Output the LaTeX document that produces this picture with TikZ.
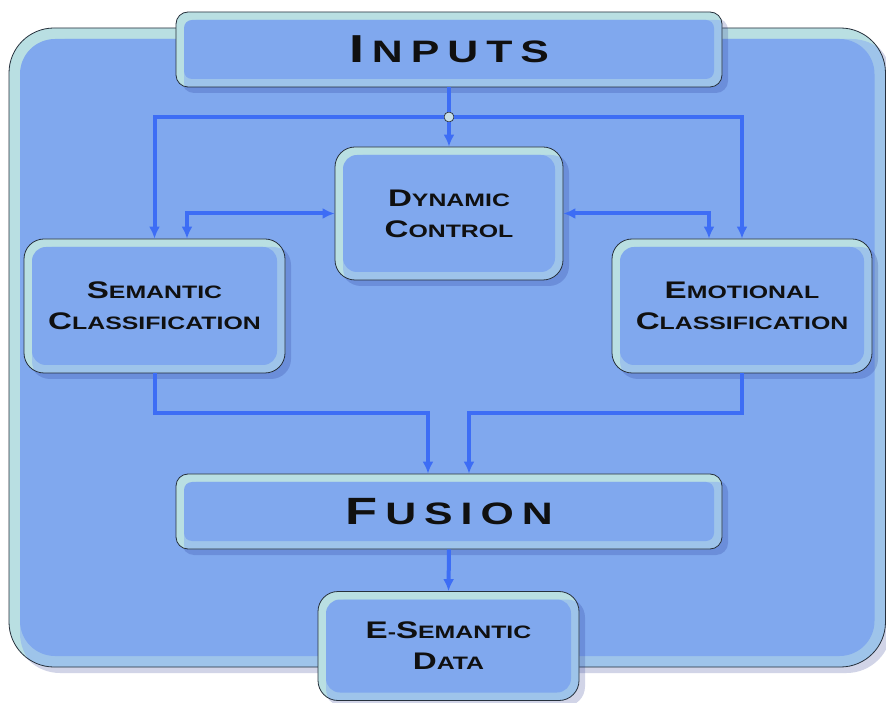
\documentclass[tikz,border=0pt]{standalone}
\usepackage{fontspec}
\usetikzlibrary{arrows.meta,shadows}
\newfontfamily\capfont{Liberation Sans}[FakeStretch=1.38]

\definecolor{facecol}{HTML}{80A8EE}
\definecolor{bevelcol}{HTML}{B9DFE2}
\definecolor{bandcol}{HTML}{9EC4EA}
\definecolor{edgecol}{HTML}{26303C}
\definecolor{wirecol}{HTML}{3D6DF5}
\definecolor{shadecol}{HTML}{1A2A8A}
\definecolor{inkcol}{HTML}{101010}
\definecolor{dotcol}{HTML}{C8DEE6}

% small-caps look: first letter large, the rest in smaller capitals
\newcommand\bigletter[1]{{\fontsize{24pt}{31pt}\selectfont #1}}
\newcommand\capsM[2]{\bigletter{#1}#2}
\newcommand\lgap{\hspace{8pt}}

\tikzset{
  bevelbox/.style n args={3}{
    draw=edgecol, line width=0.8pt, fill=bevelcol,
    rounded corners=#1, inner sep=0pt, align=center,
    text=inkcol, font=\capfont\bfseries\fontsize{18pt}{31pt}\selectfont,
    drop shadow={shadow xshift=6pt, shadow yshift=-6pt, fill=shadecol, opacity=0.2},
    path picture={
      \fill[bandcol, rounded corners=#1]
        ([shift={(#3,-#3)}]path picture bounding box.north west) rectangle
        ([shift={(#3,-#3)}]path picture bounding box.south east);
      \fill[facecol, rounded corners=#2]
        ([shift={(#3,-#3)}]path picture bounding box.north west) rectangle
        ([shift={(-#3,#3)}]path picture bounding box.south east);
    }
  },
  bigbar/.style={bevelbox={12pt}{8pt}{8pt}, minimum width=546pt, minimum height=75pt,
    font=\capfont\bfseries\fontsize{31pt}{31pt}\selectfont},
  stagebox/.style={bevelbox={20pt}{14pt}{8pt}},
  wire/.style={draw=wirecol, line width=4pt},
  flow/.style={wire, -{Latex[length=12pt,width=11pt]}},
  twoway/.style={wire, {Latex[length=12pt,width=11pt]}-{Latex[length=12pt,width=11pt]}},
  junction/.style={circle, draw=edgecol, line width=0.7pt, fill=dotcol,
    minimum size=10pt, inner sep=0pt},
}

\begin{document}
\begin{tikzpicture}[x=1pt,y=1pt]
  \fill[white] (0,0) rectangle (886,702);
  \useasboundingbox (0,0) rectangle (886,702);

  % surrounding panel
  \node[bevelbox={45pt}{35pt}{11pt}, minimum width=876.5pt, minimum height=639pt]
    (frame) at (447.25,354.5) {};

  % blocks
  \node[bigbar] (inp) at (449,652.5)
    {{\fontsize{39pt}{39pt}\selectfont I}\lgap N\lgap P\lgap U\lgap T\lgap S};
  \node[stagebox, minimum width=228pt, minimum height=133pt] (dyn) at (449,488.5)
    {\capsM{D}{YNAMIC}\\\capsM{C}{ONTROL}};
  \node[stagebox, minimum width=261pt, minimum height=134pt] (sem) at (154.5,396)
    {\capsM{S}{EMANTIC}\\\capsM{C}{LASSIFICATION}};
  \node[stagebox, minimum width=260pt, minimum height=134pt] (emo) at (742,396)
    {\capsM{E}{MOTIONAL}\\\capsM{C}{LASSIFICATION}};
  \node[bigbar] (fus) at (449,190.5)
    {{\fontsize{38pt}{38pt}\selectfont F}\lgap U\lgap S\lgap I\lgap O\lgap N};
  \node[stagebox, minimum width=261pt, minimum height=109pt] (esd) at (448.5,56)
    {\bigletter{E}-\bigletter{S}EMANTIC\\\capsM{D}{ATA}};

  % branching point below the inputs
  \node[junction] (junc) at (449,585) {};

  % connectors
  \draw[wire] (inp.south) -- (junc.north);
  \draw[flow] (junc.south) -- (dyn.north);
  \draw[flow] (junc.west) -| (sem.north);
  \draw[flow] (junc.east) -| (emo.north);
  \draw[twoway] (dyn.west) -| ([xshift=32.5pt]sem.north);
  \draw[twoway] (dyn.east) -| ([xshift=-33pt]emo.north);
  \draw[flow] (sem.south) -- ++(0,-40) -| ([xshift=-21pt]fus.north);
  \draw[flow] (emo.south) -- ++(0,-40) -| ([xshift=20pt]fus.north);
  \draw[flow] (fus.south) -- (esd.north);
\end{tikzpicture}
\end{document}
